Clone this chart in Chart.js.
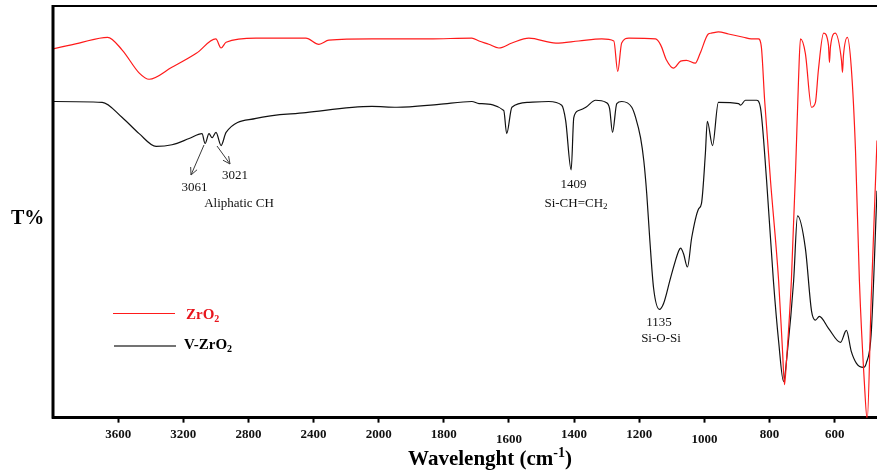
<!DOCTYPE html>
<html>
<head>
<meta charset="utf-8">
<title>FTIR ZrO2 / V-ZrO2</title>
<script src="https://cdn.jsdelivr.net/npm/chart.js@4.4.4/dist/chart.umd.min.js"></script>
<style>
  html, body { margin: 0; padding: 0; background: #fff; overflow: hidden; }
</style>
</head>
<body>
<canvas id="ftir" width="877" height="470"></canvas>
<script>
// ─── Data ────────────────────────────────────────────────────────────────────
// wavenumber (cm-1) and transmittance (arbitrary %)
const tickLabels = ['3600', '3200', '2800', '2400', '2000', '1800', '1600', '1400', '1200', '1000', '800', '600'];

const zrWave = [4010, 3840, 3665, 3575, 3470, 3410, 3270, 3120, 3000, 2968,
  2937, 2753, 2447, 2367, 2306, 2042, 1846, 1714, 1692, 1662,
  1631, 1591, 1539, 1456, 1386, 1315, 1278, 1266, 1254, 1232,
  1150, 1134, 1116, 1095, 1073, 1055, 1028, 1013, 988, 979,
  957, 926, 880, 856, 834, 825, 815, 797, 772, 760,
  754, 748, 733, 720, 711, 705, 690, 671, 659, 650,
  634, 619, 616, 613, 598, 579, 576, 573, 561, 549,
  536, 524, 509, 500, 488, 470];
const zrT = [89.5, 91.0, 92.4, 89.3, 83.7, 82.2, 85.1, 88.5, 92.0, 89.8,
  91.2, 92.2, 92.2, 90.7, 91.7, 92.0, 92.0, 92.2, 91.5, 90.7,
  89.8, 91.0, 92.2, 91.0, 91.5, 92.0, 91.5, 84.1, 91.0, 92.2,
  92.0, 90.5, 86.8, 84.9, 86.6, 86.8, 86.1, 88.5, 93.2, 93.4,
  93.7, 93.2, 92.4, 92.0, 92.0, 90.0, 77.1, 57.6, 33.2, 16.1,
  8.0, 13.7, 33.2, 60.0, 82.0, 92.0, 88.5, 75.4, 76.6, 84.4,
  93.4, 90.5, 86.3, 90.0, 93.4, 86.8, 83.9, 88.0, 92.4, 85.1,
  64.9, 33.2, 8.8, -0.5, 28.3, 67.3];

const vzrWave = [4010, 3698, 3575, 3471, 3367, 3269, 3164, 3085, 3066, 3042,
  3023, 2999, 2968, 2937, 2753, 2447, 2042, 1944, 1815, 1714,
  1692, 1616, 1607, 1591, 1539, 1478, 1438, 1426, 1409, 1401,
  1386, 1364, 1334, 1303, 1291, 1282, 1269, 1254, 1223, 1211,
  1196, 1186, 1177, 1168, 1156, 1138, 1125, 1104, 1079, 1073,
  1064, 1052, 1039, 1018, 1009, 997, 991, 975, 957, 895,
  889, 874, 840, 828, 809, 788, 772, 757, 745, 726,
  714, 690, 671, 659, 647, 619, 582, 564, 549, 533,
  512, 503, 488, 470];
const vzrT = [76.8, 76.6, 72.9, 69.0, 65.9, 66.3, 67.8, 69.0, 66.6, 69.0,
  68.0, 69.3, 66.1, 69.3, 72.7, 74.1, 75.6, 75.4, 76.1, 76.8,
  76.3, 74.6, 69.0, 75.4, 76.6, 76.8, 75.9, 72.2, 60.2, 72.9,
  74.6, 75.4, 77.1, 76.6, 75.1, 69.3, 76.3, 76.8, 75.4, 72.9,
  68.0, 62.4, 54.4, 43.7, 31.5, 26.3, 27.8, 33.9, 40.5, 41.2,
  39.8, 36.6, 43.7, 50.7, 52.0, 64.1, 72.0, 66.1, 76.6, 76.3,
  75.9, 77.1, 77.1, 75.4, 57.6, 33.2, 18.5, 8.8, 16.1, 33.2,
  49.0, 41.2, 25.9, 23.7, 24.6, 21.7, 18.3, 21.2, 16.1, 13.2,
  12.2, 13.2, 20.2, 55.1];

// ─── Axis transform ──────────────────────────────────────────────────────────
// FTIR convention: 400 cm-1 per division above 2000, 200 cm-1 per division below
function toAxis(w) {
  return w >= 2000 ? (3600 - w) / 400 : 4 + (2000 - w) / 200;
}

const SERIF = "'Liberation Serif', 'Times New Roman', serif";
Chart.defaults.font.family = SERIF;
Chart.defaults.color = '#000';

// text with sub/superscript runs: parts = [{t, sub}, {t, sup}]
function drawRich(ctx, parts, x, y, size, weight, color, align) {
  const small = Math.round(size * 0.68);
  const fontOf = p => `${weight} ${p.sub || p.sup ? small : size}px ${SERIF}`;
  let total = 0;
  parts.forEach(p => { ctx.font = fontOf(p); total += ctx.measureText(p.t).width; });
  let cx = align === 'center' ? x - total / 2 : x;
  ctx.fillStyle = color;
  ctx.textAlign = 'left';
  ctx.textBaseline = 'alphabetic';
  parts.forEach(p => {
    ctx.font = fontOf(p);
    const dy = p.sub ? size * 0.18 : p.sup ? -size * 0.38 : 0;
    ctx.fillText(p.t, cx, y + dy);
    cx += ctx.measureText(p.t).width;
  });
}

function arrow(ctx, x1, y1, x2, y2) {
  const a = Math.atan2(y2 - y1, x2 - x1);
  const len = 8;
  ctx.beginPath();
  ctx.moveTo(x1, y1);
  ctx.lineTo(x2, y2);
  ctx.moveTo(x2 - len * Math.cos(a - 0.45), y2 - len * Math.sin(a - 0.45));
  ctx.lineTo(x2, y2);
  ctx.lineTo(x2 - len * Math.cos(a + 0.45), y2 - len * Math.sin(a + 0.45));
  ctx.strokeStyle = '#3a3a3a';
  ctx.lineWidth = 1;
  ctx.stroke();
}

// ─── Frame, titles, legend and peak labels ───────────────────────────────────
const decor = {
  id: 'decor',
  afterDraw(chart) {
    const { ctx, chartArea: ca } = chart;
    ctx.save();

    // left and top frame
    ctx.strokeStyle = '#000';
    ctx.lineWidth = 3;
    ctx.beginPath();
    ctx.moveTo(ca.left, ca.top - 1);
    ctx.lineTo(ca.left, ca.bottom + 1);
    ctx.stroke();
    ctx.lineWidth = 2;
    ctx.beginPath();
    ctx.moveTo(ca.left, ca.top);
    ctx.lineTo(ca.right, ca.top);
    ctx.stroke();

    // axis titles
    drawRich(ctx, [{ t: 'T%' }], 11, 224, 20, 'bold', '#000', 'left');
    drawRich(ctx, [{ t: 'Wavelenght (cm' }, { t: '-1', sup: true }, { t: ')' }], 490, 465, 21, 'bold', '#000', 'center');

    // legend
    const sets = chart.data.datasets;
    ctx.lineWidth = 1.2;
    ctx.strokeStyle = sets[0].borderColor;
    ctx.beginPath(); ctx.moveTo(113, 313.5); ctx.lineTo(175, 313.5); ctx.stroke();
    ctx.strokeStyle = '#444';
    ctx.lineWidth = 1.5;
    ctx.beginPath(); ctx.moveTo(114, 346); ctx.lineTo(176, 346); ctx.stroke();
    drawRich(ctx, [{ t: 'ZrO' }, { t: '2', sub: true }], 186, 319, 15, 'bold', '#e8141c', 'left');
    drawRich(ctx, [{ t: 'V-ZrO' }, { t: '2', sub: true }], 184, 349, 15, 'bold', '#000', 'left');

    // peak annotations
    const c = '#111';
    drawRich(ctx, [{ t: '3061' }], 194.5, 191, 13, 'normal', c, 'center');
    drawRich(ctx, [{ t: '3021' }], 235, 179, 13, 'normal', c, 'center');
    drawRich(ctx, [{ t: 'Aliphatic CH' }], 239, 207, 13, 'normal', c, 'center');
    drawRich(ctx, [{ t: '1409' }], 573.5, 188, 13, 'normal', c, 'center');
    drawRich(ctx, [{ t: 'Si-CH=CH' }, { t: '2', sub: true }], 576, 207, 13, 'normal', c, 'center');
    drawRich(ctx, [{ t: '1135' }], 659, 326, 13, 'normal', c, 'center');
    drawRich(ctx, [{ t: 'Si-O-Si' }], 661, 342, 13, 'normal', c, 'center');
    arrow(ctx, 204, 145, 191, 175);
    arrow(ctx, 217, 146, 230, 164);

    ctx.restore();
  },
};

// ─── Chart ───────────────────────────────────────────────────────────────────
const toPoints = (waves, vals) => waves.map((w, i) => ({ x: toAxis(w), y: vals[i] }));

const baseDataset = {
  borderWidth: 1.2,
  pointRadius: 0,
  fill: false,
  cubicInterpolationMode: 'monotone',
};

new Chart(document.getElementById('ftir'), {
  type: 'line',
  data: {
    datasets: [
      { ...baseDataset, label: 'ZrO2', data: toPoints(zrWave, zrT), borderColor: '#ff1a1a' },
      { ...baseDataset, label: 'V-ZrO2', data: toPoints(vzrWave, vzrT), borderColor: '#111' },
    ],
  },
  options: {
    responsive: false,
    animation: false,
    layout: { padding: { left: 53, right: 0, top: 6, bottom: 14 } },
    plugins: { legend: { display: false }, tooltip: { enabled: false } },
    scales: {
      x: {
        type: 'linear',
        min: -1,
        max: 11.65,
        afterBuildTicks: axis => {
          axis.ticks = tickLabels.map(l => ({ value: toAxis(+l) }));
        },
        border: { display: true, width: 3, color: '#000' },
        grid: { drawOnChartArea: false, drawTicks: true, tickLength: 5, tickWidth: 2, tickColor: '#000' },
        ticks: {
          padding: 4,
          color: '#111',
          maxRotation: 0,
          autoSkip: false,
          callback: (v, i) => tickLabels[i],
          // 1600 and 1000 sit a little lower in the original
          font: ctx => ({
            family: SERIF, size: 13, weight: 'bold',
            lineHeight: (ctx.index === 6 || ctx.index === 9) ? 1.95 : 1.2,
          }),
        },
      },
      y: { display: false, min: 0, max: 100 },
    },
  },
  plugins: [decor],
});
</script>
</body>
</html>
